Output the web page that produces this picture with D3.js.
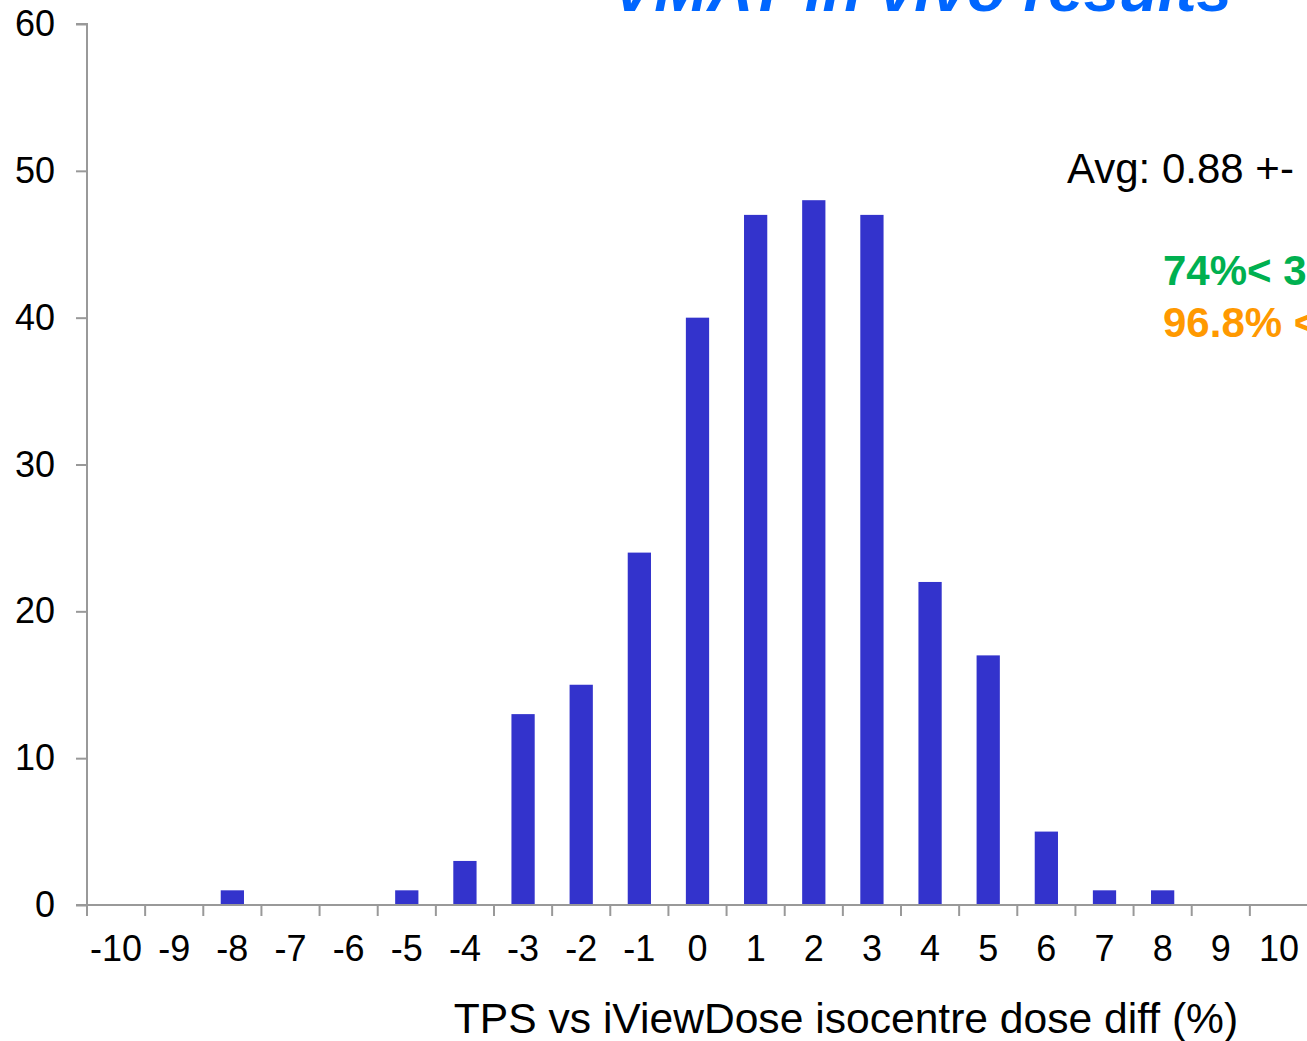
<!DOCTYPE html>
<html>
<head>
<meta charset="utf-8">
<script src="https://cdn.jsdelivr.net/npm/d3@7"></script>
<style>
  html, body { margin: 0; padding: 0; background: #fff; overflow: hidden; }
  svg { display: block; font-family: "Liberation Sans", Arial, sans-serif; }
</style>
</head>
<body>
<svg id="chart" width="1307" height="1041"></svg>
<script>
// Data
const categories = ["-10","-9","-8","-7","-6","-5","-4","-3","-2","-1","0","1","2","3","4","5","6","7","8","9","10"];
const counts     = [0, 0, 1, 0, 0, 1, 3, 13, 15, 24, 40, 47, 48, 47, 22, 17, 5, 1, 1, 0, 0];
const yTicks = [0, 10, 20, 30, 40, 50, 60];
const titleParts = ["VMAT in vivo results"];
const xAxisTitle = "TPS vs iViewDose isocentre dose diff (%)";
const notes = [
  {text: "Avg: 0.88 +-", color: "#000000", weight: "normal"},
  {text: "74%< 3", color: "#00B050", weight: "bold"},
  {text: "96.8% <", color: "#FF9900", weight: "bold"}
];

const svg = d3.select("#chart");
const axisColor = "#999999";

const x = d3.scaleBand().domain(categories).range([87, 1308]).padding(0);
const y = d3.scaleLinear().domain([0, 60]).range([905, 24]);

// Bars
svg.append("g").selectAll("rect")
  .data(categories.map((c, i) => ({c, v: counts[i]})).filter(d => d.v > 0))
  .join("rect")
  .attr("x", d => x(d.c) + x.bandwidth() * 0.3)
  .attr("width", x.bandwidth() * 0.4)
  .attr("y", d => y(d.v))
  .attr("height", d => y(0) - y(d.v))
  .attr("fill", "#3333CC");

// Y axis
const yAxis = d3.axisLeft(y).tickValues(yTicks).tickSize(11).tickPadding(21);
const gy = svg.append("g").attr("transform", "translate(87,0)").call(yAxis);
gy.select(".domain").attr("stroke", axisColor).attr("stroke-width", 2).attr("d", `M-11,${y(60)}H0V${y(0)}`);
gy.selectAll(".tick line").attr("stroke", axisColor).attr("stroke-width", 2);
gy.selectAll(".tick text").attr("font-size", 36).attr("fill", "#000")
  .attr("font-family", "'Liberation Sans', Arial, sans-serif");

// X axis line
svg.append("line")
  .attr("x1", 76).attr("x2", 1307)
  .attr("y1", y(0)).attr("y2", y(0))
  .attr("stroke", axisColor).attr("stroke-width", 2);

// X ticks at band boundaries
svg.append("g").selectAll("line")
  .data(categories)
  .join("line")
  .attr("x1", d => x(d)).attr("x2", d => x(d))
  .attr("y1", y(0)).attr("y2", y(0) + 11)
  .attr("stroke", axisColor).attr("stroke-width", 2);

// X tick labels
svg.append("g").selectAll("text")
  .data(categories)
  .join("text")
  .attr("x", d => x(d) + x.bandwidth() / 2)
  .attr("y", 961)
  .attr("text-anchor", "middle")
  .attr("font-size", 36)
  .attr("fill", "#000")
  .text(d => d);

// X axis title
svg.append("text")
  .attr("x", 846).attr("y", 1033)
  .attr("text-anchor", "middle")
  .attr("font-size", 42.6)
  .attr("fill", "#000")
  .text(xAxisTitle);

// Title
svg.append("text")
  .attr("x", 612).attr("y", 11)
  .attr("font-size", 63.5)
  .attr("font-weight", "bold")
  .attr("font-style", "italic")
  .attr("fill", "#0066FF")
  .text(titleParts[0]);

// Notes
const noteY = [183, 285, 337];
const noteX = [1067, 1163, 1163];
svg.append("g").selectAll("text")
  .data(notes)
  .join("text")
  .attr("x", (d, i) => noteX[i])
  .attr("y", (d, i) => noteY[i])
  .attr("font-size", (d, i) => i === 0 ? 42 : 42)
  .attr("font-weight", d => d.weight)
  .attr("fill", d => d.color)
  .text(d => d.text);
</script>
</body>
</html>
